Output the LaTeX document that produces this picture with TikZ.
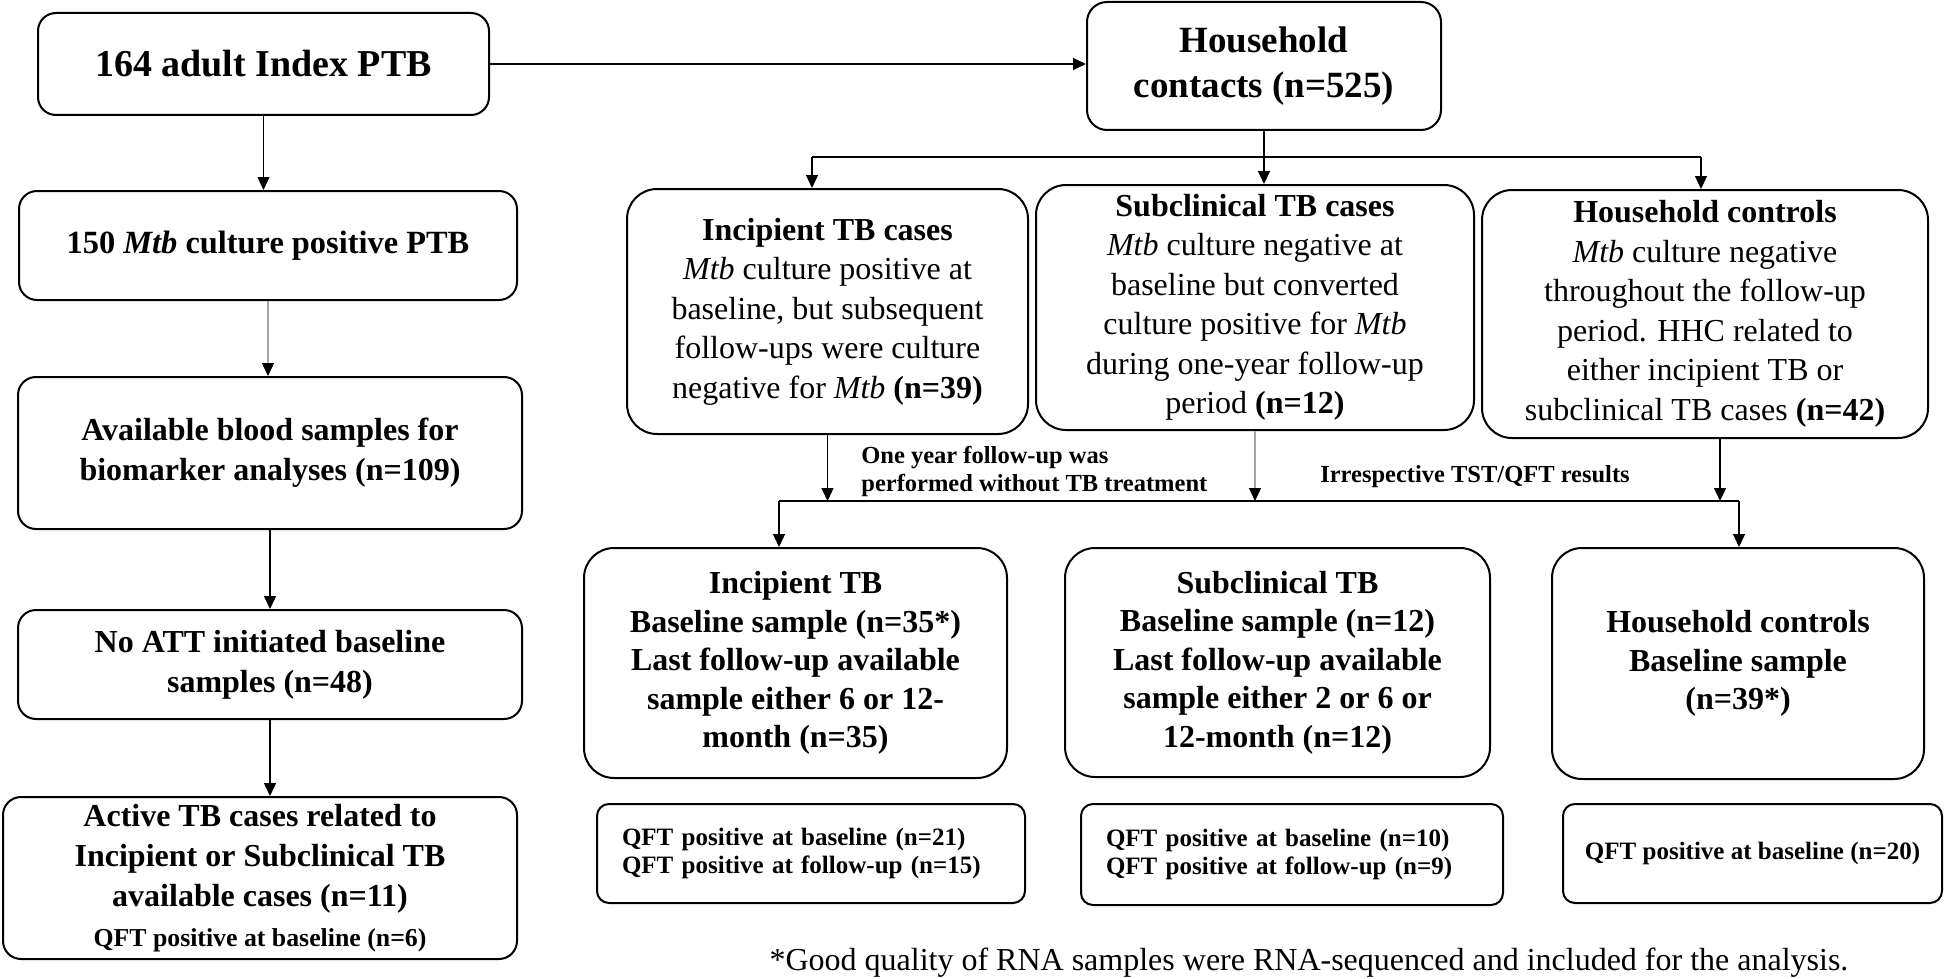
\documentclass[tikz,border=0pt]{standalone}
\usepackage{fontspec}
\setmainfont{Liberation Serif}
\usetikzlibrary{arrows.meta}

\begin{document}
\begin{tikzpicture}[x=0.5pt,y=-0.5pt,
    box/.style={draw, line width=1pt, rounded corners=9pt, align=center, inner sep=0pt,
        font=\bfseries\fontsize{16}{20}\selectfont},
    bigbox/.style={box, rounded corners=15pt, font=\fontsize{16}{19.75}\selectfont},
    qftbox/.style={box, rounded corners=6pt, align=left, inner xsep=12.5pt,
        font=\bfseries\fontsize{12.5}{14}\selectfont},
    arr/.style={-{Triangle[length=6.5pt,width=6pt]}, line width=0.7pt},
    grayarr/.style={arr, gray!70, -{Triangle[length=6.5pt,width=6pt,color=black]}},
    note/.style={inner sep=0pt, align=left, font=\bfseries\fontsize{12.25}{14}\selectfont}]
    \useasboundingbox (0,0) rectangle (1949,979);

    % Index cases
    \node[box, minimum width=225.5pt, minimum height=51pt,
        font=\bfseries\fontsize{19}{22}\selectfont] (idx) at (263.5,64) {164 adult Index PTB};
    \node[box, minimum width=249pt, minimum height=54.5pt,
        font=\bfseries\fontsize{16.2}{20}\selectfont] (mtb) at (268,245.5) {150 \textit{Mtb} culture positive PTB};
    \node[box, minimum width=252pt, minimum height=76pt] (blood) at (270,453)
        {Available blood samples for\\ biomarker analyses (n=109)};
    \node[box, minimum width=252pt, minimum height=54.5pt] (noatt) at (270,664.5)
        {No ATT initiated baseline\\ samples (n=48)};
    \node[box, minimum width=257pt, minimum height=81pt] (active) at (260,878)
        {Active TB cases related to\\ Incipient or Subclinical TB\\ available cases (n=11)\\
        {\fontsize{12.9}{14}\selectfont QFT positive at baseline (n=6)}};

    % Household contacts
    \node[box, rounded corners=10pt, minimum width=177pt, minimum height=64pt,
        font=\bfseries\fontsize{18.5}{22.5}\selectfont] (hh) at (1264,66) {Household\\ contacts (n=525)};

    % Groups
    \node[bigbox, minimum width=200.5pt, minimum height=122.5pt] (inc) at (827.5,311.5)
        {\textbf{Incipient TB cases}\\ \textit{Mtb} culture positive at\\ baseline, but subsequent\\
        follow-ups were culture\\ negative for \textit{Mtb} \textbf{(n=39)}};
    \node[bigbox, minimum width=219pt, minimum height=122.5pt] (sub) at (1255,307.5)
        {\textbf{Subclinical TB cases}\\ \textit{Mtb} culture negative at\\ baseline but converted\\
        culture positive for \textit{Mtb}\\ during one-year follow-up\\ period \textbf{(n=12)}};
    \node[bigbox, minimum width=223pt, minimum height=124pt] (ctl) at (1705,314)
        {\textbf{Household controls}\\ \textit{Mtb} culture negative\\ throughout the follow-up\\
        period. HHC related to\\ either incipient TB or\\ subclinical TB cases \textbf{(n=42)}};

    % Samples
    \node[bigbox, font=\bfseries\fontsize{16}{19.25}\selectfont, minimum width=211.5pt,
        minimum height=115pt] (inc3) at (795.5,663)
        {Incipient TB\\ Baseline sample (n=35*)\\ Last follow-up available\\ sample either 6 or 12-\\ month (n=35)};
    \node[bigbox, font=\bfseries\fontsize{16}{19.25}\selectfont, minimum width=212.5pt,
        minimum height=114.5pt] (sub3) at (1277.5,662.5)
        {Subclinical TB\\ Baseline sample (n=12)\\ Last follow-up available\\ sample either 2 or 6 or\\ 12-month (n=12)};
    \node[bigbox, font=\bfseries\fontsize{16}{19.25}\selectfont, minimum width=186pt,
        minimum height=115.5pt] (ctl3) at (1738,663.5)
        {Household controls\\ Baseline sample\\ (n=39*)};

    % QFT results
    \node[qftbox, text width=189pt, minimum height=49.5pt] (qft1) at (811,853.5)
        {QFT positive at baseline (n=21)\\ QFT positive at follow-up (n=15)};
    \node[qftbox, text width=186pt, minimum height=50.5pt] (qft2) at (1292,854.5)
        {QFT positive at baseline (n=10)\\ QFT positive at follow-up (n=9)};
    \node[qftbox, align=center, inner xsep=0pt, minimum width=189.5pt, minimum height=49.5pt] (qft3) at (1752.5,853.5)
        {QFT positive at baseline (n=20)};

    \node[inner sep=0pt, font=\fontsize{16}{19}\selectfont] (fn) at (1309,963)
        {*Good quality of RNA samples were RNA-sequenced and included for the analysis.};

    % Connectors
    \draw[arr] (idx.east) -- (idx.east -| hh.west);
    \foreach \a/\b in {idx/mtb, blood/noatt, noatt/active}
        \draw[arr] (\a.south) -- (\a.south |- \b.north);
    \draw[grayarr] (mtb.south) -- (mtb.south |- blood.north);

    \coordinate (barL) at (812,157);
    \coordinate (barR) at (1701,157);
    \draw[line width=1.2pt] (barL) -- (barR);
    \draw[arr] (hh.south) -- (hh.south |- sub.north);
    \draw[arr] (barL) -- (barL |- inc.north);
    \draw[arr] (barR) -- (barR |- ctl.north);

    \coordinate (lowL) at (779,501);
    \coordinate (lowR) at (1739,501);
    \draw[line width=0.7pt] (lowL) -- (lowR);
    \draw[arr] (inc.south) -- (inc.south |- lowL);
    \draw[grayarr] (sub.south) -- (sub.south |- lowL);
    \draw[arr] ([xshift=7.5pt]ctl.south) -- ([xshift=7.5pt]ctl.south |- lowL);
    \draw[arr] (lowL) -- (lowL |- inc3.north);
    \draw[arr] (lowR) -- (lowR |- ctl3.north);

    \node[note, anchor=west] (follow) at (861,471) {One year follow-up was\\ performed without TB treatment};
    \node[note] (tstqft) at (1475,477) {Irrespective TST/QFT results};
\end{tikzpicture}
\end{document}
